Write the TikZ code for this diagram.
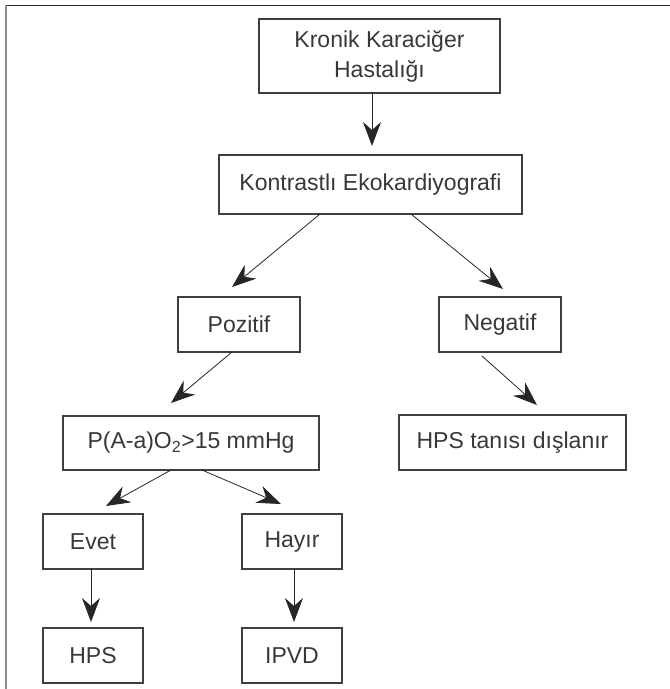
\documentclass[tikz,border=0pt]{standalone}
\usepackage{fontspec}
\setmainfont{Liberation Sans}
\usetikzlibrary{arrows.meta}

\begin{document}
\begin{tikzpicture}[x=1pt,y=-1pt,
box/.style={draw=black!75,line width=1.1pt,inner sep=0,outer sep=0,align=center,
            text=black!78,font=\fontsize{23}{30}\selectfont},
arr/.style={draw=black!85,line width=0.8pt,-{Stealth[length=24pt,width=18pt,inset=8pt]}}]
\useasboundingbox (0,0) rectangle (670,689);
% frame
\draw[black!85,line width=1.2pt] (5,5.5) -- (670,5.5);
\draw[black!45,line width=2pt] (5.5,5) -- (5.5,689);
%==================
\node[box,minimum width=241pt,minimum height=74pt] (kron) at (379.5,56) {Kronik Karaciğer\\Hastalığı};
\node[box,minimum width=303pt,minimum height=59pt] (kon) at (370.5,184.5) {Kontrastlı Ekokardiyografi};
%==================
\node[box,minimum width=122pt,minimum height=55pt] (poz) at (239,324.5) {Pozitif};
\node[box,minimum width=122pt,minimum height=55pt] (neg) at (500,324.5) {Negatif};
%==================
\node[box,minimum width=256pt,minimum height=54pt] (pao) at (191,443) {P(A-a)O\textsubscript{2}>15 mmHg};
\node[box,minimum width=227pt,minimum height=55pt] (dis) at (512.5,442.5) {HPS tanısı dışlanır};
%==================
\node[box,minimum width=100pt,minimum height=55pt] (evet) at (93,541.5) {Evet};
\node[box,minimum width=100pt,minimum height=55pt] (hay) at (292,541.5) {Hayır};
\node[box,minimum width=100pt,minimum height=55pt] (hps) at (93,655.5) {HPS};
\node[box,minimum width=100pt,minimum height=55pt] (ipvd) at (292,655.5) {IPVD};
% ===================
\draw[arr] ([xshift=-7.5pt]kron.south) -- ([xshift=1.5pt,yshift=9pt]kon.north);
\draw[arr] ([xshift=-50.5pt]kon.south) -- ([xshift=-7pt,yshift=10pt]poz.north);
\draw[arr] ([xshift=40.5pt]kon.south) -- ([xshift=3pt,yshift=8pt]neg.north);
\draw[arr] ([xshift=-7pt]poz.south) -- ([xshift=-20pt,yshift=13pt]pao.north);
\draw[arr] ([xshift=-18pt,yshift=-4pt]neg.south) -- ([xshift=24.5pt,yshift=10pt]dis.north);
\draw[arr] ([xshift=-20pt]pao.south) -- ([xshift=13pt,yshift=8pt]evet.north);
\draw[arr] ([xshift=11pt]pao.south) -- ([xshift=-11pt,yshift=10pt]hay.north);
\draw[arr] ([xshift=-2pt]evet.south) -- ([xshift=-2pt,yshift=6pt]hps.north);
\draw[arr] ([xshift=2pt]hay.south) -- ([xshift=2pt,yshift=6pt]ipvd.north);
\end{tikzpicture}
\end{document}
